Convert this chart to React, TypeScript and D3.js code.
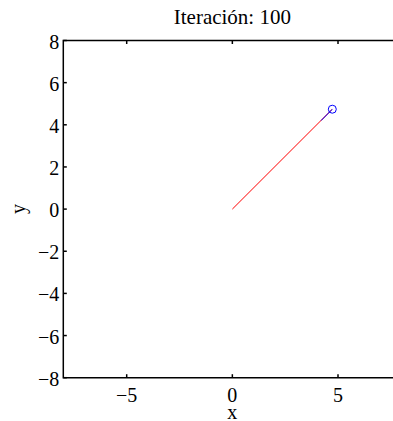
import { useEffect, useRef } from "react";
import * as d3 from "d3";

const title = "Iteración: 100";
const xTicks = [-5, 0, 5];
const yTicks = [-8, -6, -4, -2, 0, 2, 4, 6, 8];
// trajectory so far (red) and last step (blue)
const pathX = [0, 4.72];
const pathY = [0, 4.73];
const stepX = [4.2, 4.73];
const stepY = [4.2, 4.74];
const current = { x: 4.73, y: 4.74 };

const App = () => {
  const svgRef = useRef<SVGSVGElement>(null);
  const width = 393;
  const height = 421;
  const margin = { top: 40.5, left: 63.3, bottom: 377.7, right: 401.4 };

  useEffect(() => {
    const svg = d3.select(svgRef.current);
    svg.selectAll("*").remove();

    const x = d3.scaleLinear().domain([-8, 8]).range([margin.left, margin.right]);
    const y = d3.scaleLinear().domain([-8, 8]).range([margin.bottom, margin.top]);
    const font = "'Liberation Serif', 'Times New Roman', serif";

    svg.append("rect")
      .attr("width", width)
      .attr("height", height)
      .attr("fill", "#ffffff");

    const line = d3.line<[number, number]>()
      .x(d => x(d[0]))
      .y(d => y(d[1]));

    svg.append("path")
      .attr("d", line(pathX.map((v, i) => [v, pathY[i]])))
      .attr("fill", "none")
      .attr("stroke", "#ff0000")
      .attr("stroke-width", 1);

    svg.append("path")
      .attr("d", line(stepX.map((v, i) => [v, stepY[i]])))
      .attr("fill", "none")
      .attr("stroke", "#0000ff")
      .attr("stroke-width", 1);

    svg.append("circle")
      .attr("cx", x(current.x))
      .attr("cy", y(current.y))
      .attr("r", 4)
      .attr("fill", "none")
      .attr("stroke", "#0000ff")
      .attr("stroke-width", 1);

    // axes: left, top, bottom (right edge falls outside the window)
    const axis = svg.append("g").attr("stroke", "#000").attr("stroke-width", 1.5).attr("fill", "none");
    axis.append("path")
      .attr("d", `M${margin.right},${margin.top}H${margin.left}V${margin.bottom}H${margin.right}`);

    const tl = 3.5;
    xTicks.forEach(t => {
      axis.append("line").attr("x1", x(t)).attr("x2", x(t)).attr("y1", margin.bottom).attr("y2", margin.bottom - tl);
      axis.append("line").attr("x1", x(t)).attr("x2", x(t)).attr("y1", margin.top).attr("y2", margin.top + tl);
    });
    yTicks.forEach(t => {
      axis.append("line").attr("x1", margin.left).attr("x2", margin.left + tl).attr("y1", y(t)).attr("y2", y(t));
    });

    svg.append("g")
      .selectAll("text")
      .data(xTicks)
      .join("text")
      .attr("x", d => x(d))
      .attr("y", 401.5)
      .attr("text-anchor", "middle")
      .attr("font-family", font)
      .attr("font-size", 20)
      .text(d => (d < 0 ? "\u2212" + Math.abs(d) : String(d)));

    svg.append("g")
      .selectAll("text")
      .data(yTicks)
      .join("text")
      .attr("x", margin.left - 4)
      .attr("y", d => y(d) + 8)
      .attr("text-anchor", "end")
      .attr("font-family", font)
      .attr("font-size", 20)
      .text(d => (d < 0 ? "\u2212" + Math.abs(d) : String(d)));

    svg.append("text")
      .attr("x", x(0))
      .attr("y", 419)
      .attr("text-anchor", "middle")
      .attr("font-family", font)
      .attr("font-size", 20)
      .text("x");

    svg.append("text")
      .attr("transform", `translate(25,${y(0)}) rotate(-90)`)
      .attr("text-anchor", "middle")
      .attr("font-family", font)
      .attr("font-size", 20)
      .text("y");

    svg.append("text")
      .attr("x", x(0))
      .attr("y", 24)
      .attr("text-anchor", "middle")
      .attr("font-family", font)
      .attr("font-size", 21)
      .text(title);
  }, []);

  return (
    <svg ref={svgRef} width={width} height={height} style={{ position: "absolute", left: 0, top: 0 }}></svg>
  );
};

export default App;
